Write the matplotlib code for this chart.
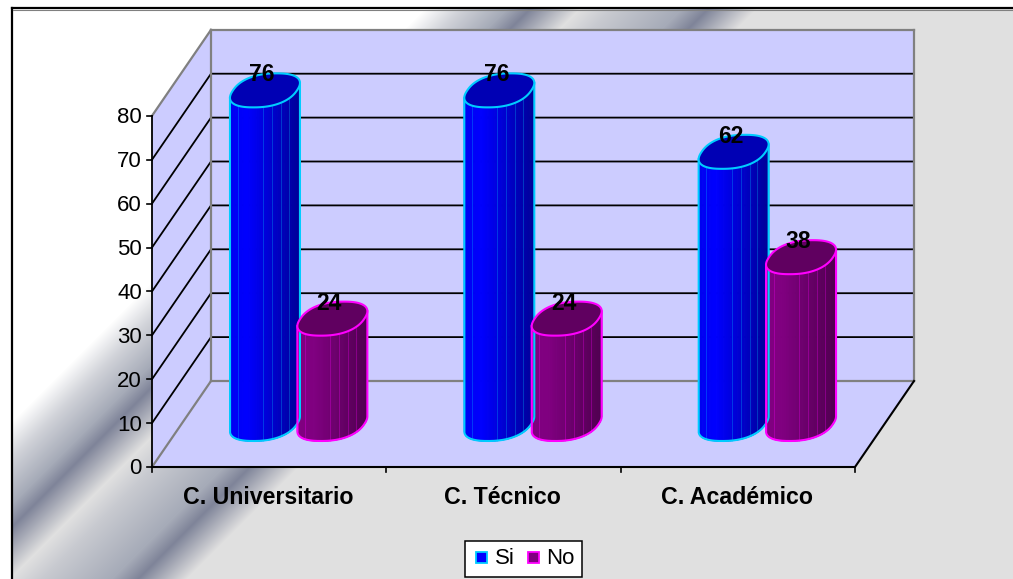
import numpy as np
import matplotlib
matplotlib.use('Agg')
import matplotlib.pyplot as plt
from matplotlib.colors import to_rgb
from matplotlib.patches import Polygon, Rectangle

plt.rcParams['font.family'] = ['Liberation Sans', 'DejaVu Sans']

categories = ['C. Universitario', 'C. Técnico', 'C. Académico']
si_values = [76, 76, 62]
no_values = [24, 24, 38]
y_ticks = [0, 10, 20, 30, 40, 50, 60, 70, 80]
series_names = ['Si', 'No']

# layout of the fake 3d box, all in pixels of the picture
W, H = 1013, 579
X0, Y0 = 152, 467
BOX_W = 703
UNIT = 4.39
DX, DY = 59, -86
Y_MAX = 80
BAR_OFFSET = 33.7
BAR_A, BAR_B, BAR_C = 32, 17, 11.5
BAR_E = 0.85


def px(group_pos, value=0, depth=0):
    # group_pos 0..n along the floor, value up, depth 0..1 into the box
    x = X0 + group_pos * BOX_W / len(categories) + depth * DX
    y = Y0 - value * UNIT + depth * DY
    return x, y


def ring(cx, cy, t):
    # rounded-off ellipse, sheared along the depth direction
    c = np.sign(np.cos(t)) * np.abs(np.cos(t)) ** BAR_E
    s = np.sign(np.sin(t)) * np.abs(np.sin(t)) ** BAR_E
    return (cx + BAR_A * c + BAR_C * s, cy - BAR_B * s)


def draw_bar(ax, pos, value, offset, low, mid, dark, top, edge):
    bx, by = px(pos + offset * len(categories) / BOX_W, 0, 0.5)
    tx, ty = px(pos + offset * len(categories) / BOX_W, value, 0.5)
    # front arc: from leftmost to rightmost point of the ring, going under
    tt = np.linspace(0, 2 * np.pi, 721)
    rx, ry = ring(0, 0, tt)
    t0 = tt[np.argmin(rx)]
    t1 = tt[np.argmax(rx)] + 2 * np.pi
    t_arc = np.linspace(t0, t1, 300)
    ax_arc = ring(0, 0, t_arc)[0]
    width = ax_arc.max() - ax_arc.min()
    fr = np.linspace(0, 1, 41)
    t = np.interp(fr, (ax_arc - ax_arc.min()) / width, t_arc)
    low, mid, dark = np.array(to_rgb(low)), np.array(to_rgb(mid)), np.array(to_rgb(dark))
    for i in range(len(fr) - 1):
        f = (fr[i] + fr[i + 1]) / 2
        if f < 0.25:
            col = low + (mid - low) * f / 0.25
        else:
            col = mid + (dark - mid) * (f - 0.25) / 0.75
        xa, ya = ring(bx, by, t[i])
        xb, yb = ring(bx, by, t[i + 1])
        xc, yc = ring(tx, ty, t[i + 1])
        xd, yd = ring(tx, ty, t[i])
        ax.add_patch(Polygon([(xa, ya), (xb, yb), (xc, yc), (xd, yd)], closed=True,
                             fc=col, ec=col, lw=0.8, zorder=5))
    # thin light lines between the facets
    for f in [0.11, 0.47, 0.6, 0.73, 0.84]:
        tl = np.interp(f, (ax_arc - ax_arc.min()) / width, t_arc)
        xa, ya = ring(bx, by, tl)
        xd, yd = ring(tx, ty, tl)
        ax.plot([xa, xd], [ya, yd], color=edge, lw=0.5, alpha=0.4, zorder=6)
    # outline of sides and bottom, then the lid
    xs, ys = ring(bx, by, t_arc)
    xl, yl = ring(tx, ty, t0)
    xr, yr = ring(tx, ty, t1)
    ax.plot(np.r_[xl, xs, xr], np.r_[yl, ys, yr], color=edge, lw=1.5, zorder=7)
    lid_x, lid_y = ring(tx, ty, tt)
    ax.add_patch(Polygon(np.c_[lid_x, lid_y], closed=True, fc=top, ec=edge, lw=1.5, zorder=8))
    ax.text(tx - 3, ty - BAR_B + 1.5, str(value), ha='center', va='center', fontsize=16.5,
            fontweight='bold', color='black', zorder=20)


fig = plt.figure(figsize=(W / 100, H / 100), dpi=100)
ax = fig.add_axes([0, 0, 1, 1])
ax.set_xlim(0, W)
ax.set_ylim(H, 0)
ax.axis('off')

# chart area background, diagonal metal gradient
yy, xx = np.mgrid[0:H, 0:W]
stops = [433, 470, 515, 538, 588, 620, 690, 716, 765]
cols = ['#ffffff', '#d0d2d8', '#a6abb8', '#7f8499', '#e0e0e0', '#c8cad0', '#a6abb8', '#7f8499', '#e0e0e0']
cols = np.array([to_rgb(c) for c in cols])
grad = np.dstack([np.interp(xx + yy, stops, cols[:, i]) for i in range(3)])
ax.imshow(grad, extent=(0, W, H, 0), aspect='auto', zorder=0)
ax.set_xlim(0, W)
ax.set_ylim(H, 0)
ax.add_patch(Rectangle((0, 0), W, 8, fc='white', ec='none', zorder=1))
ax.add_patch(Rectangle((0, 0), 11, H, fc='white', ec='none', zorder=1))
ax.plot([12, 12], [H, 8], color='black', lw=1.6, zorder=2)
ax.plot([12, W], [8, 8], color='black', lw=1.6, zorder=2)
ax.plot([13, W], [9.5, 9.5], color='#808080', lw=0.8, zorder=2)

# walls and floor
n = len(categories)
fl = [px(0), px(n), px(n, 0, 1), px(0, 0, 1)]
back = [px(0, 0, 1), px(n, 0, 1), px(n, Y_MAX, 1), px(0, Y_MAX, 1)]
side = [px(0), px(0, 0, 1), px(0, Y_MAX, 1), px(0, Y_MAX)]
for poly in (fl, back, side):
    ax.add_patch(Polygon(poly, closed=True, fc='#ccccff', ec='none', zorder=3))

# gridlines on both walls
for v in y_ticks[1:-1]:
    xa, ya = px(0, v)
    xb, yb = px(0, v, 1)
    xc, yc = px(n, v, 1)
    ax.plot([xa, xb, xc], [ya, yb, yc], color='black', lw=1.3, zorder=4)

# grey box edges
g = '#808080'
for a, b in [(px(0, Y_MAX), px(0, Y_MAX, 1)), (px(0, Y_MAX, 1), px(n, Y_MAX, 1)),
             (px(n, Y_MAX, 1), px(n, 0, 1)), (px(n, 0, 1), px(0, 0, 1)),
             (px(0, 0, 1), px(0, Y_MAX, 1)), (px(0), px(0, 0, 1))]:
    ax.plot([a[0], b[0]], [a[1], b[1]], color=g, lw=1.6, zorder=4, solid_capstyle='projecting')

# axis lines, black
ax.plot([px(0)[0], px(0, Y_MAX)[0]], [px(0)[1], px(0, Y_MAX)[1]], color='black', lw=1.3, zorder=4)
ax.plot([px(0)[0], px(n)[0], px(n, 0, 1)[0]], [px(0)[1], px(n)[1], px(n, 0, 1)[1]], color='black', lw=1.5, zorder=4)
for v in y_ticks:
    x, y = px(0, v)
    ax.plot([x - 5, x], [y, y], color='black', lw=1.2, zorder=4)
    ax.text(x - 10, y + 2, str(v), ha='right', va='center', fontsize=16, color='black', zorder=4)
for i in range(n + 1):
    x, y = px(i)
    ax.plot([x, x], [y, y + 5], color='black', lw=1.2, zorder=4)
for i, c in enumerate(categories):
    x, y = px(i + 0.5)
    ax.text(x - 1, y + 31, c, ha='center', va='center', fontsize=16.7, fontweight='bold', color='black', zorder=4)

# bars, blue first so the purple one overlaps it at the base
for i in range(n):
    draw_bar(ax, i + 0.5, si_values[i], -BAR_OFFSET, '#0000f0', '#0000ff', '#000098', '#0000b4', '#00ccff')
    draw_bar(ax, i + 0.5, no_values[i], BAR_OFFSET, '#800080', '#800080', '#500050', '#600060', '#ff00ff')

# legend box
ax.add_patch(Rectangle((465, 541), 117, 36, fc='white', ec='black', lw=1.1, zorder=30))
ax.add_patch(Rectangle((476, 552), 11, 11, fc='#0000ff', ec='#00ccff', lw=1.3, zorder=31))
ax.text(495, 559, series_names[0], ha='left', va='center', fontsize=16, zorder=31)
ax.add_patch(Rectangle((528, 552), 11, 11, fc='#800080', ec='#ff00ff', lw=1.3, zorder=31))
ax.text(546, 559, series_names[1], ha='left', va='center', fontsize=16, zorder=31)

fig.savefig('out.png', dpi=100)
